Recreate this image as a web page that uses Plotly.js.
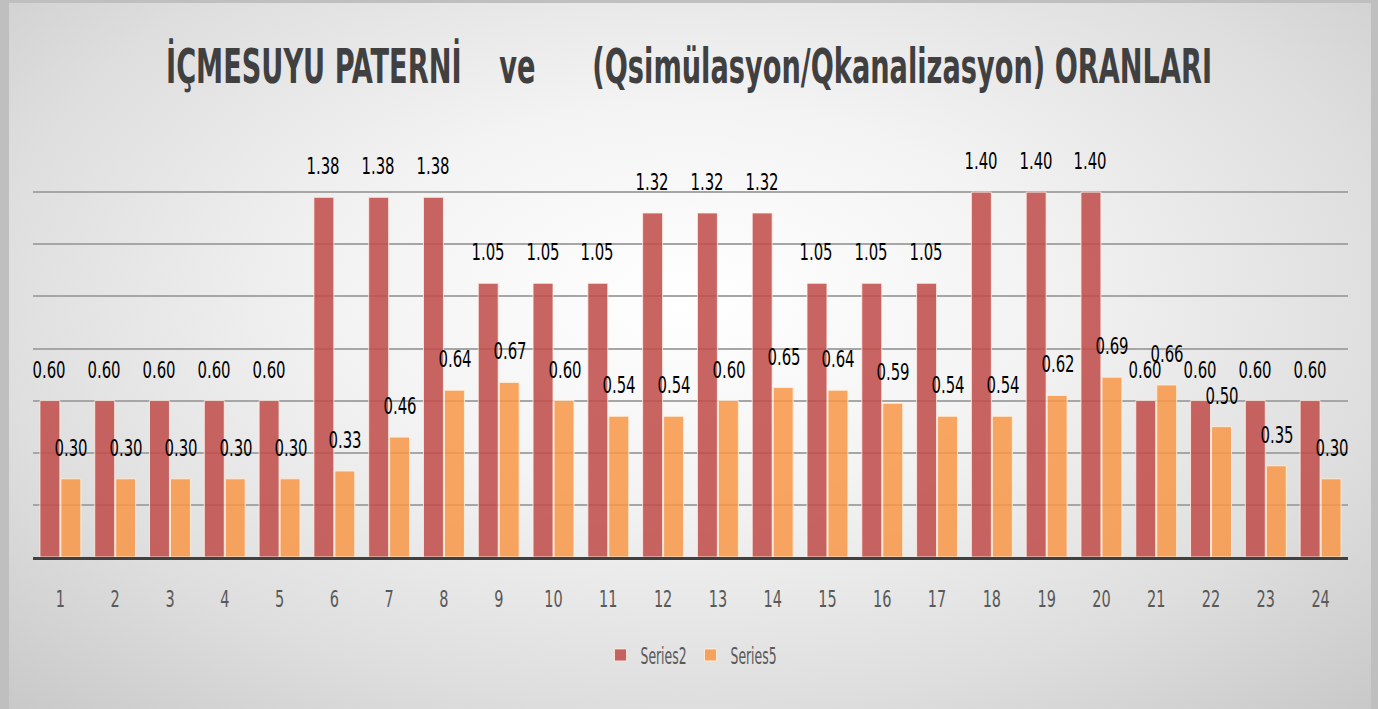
<!DOCTYPE html>
<html>
<head>
<meta charset="utf-8">
<script src="https://cdn.plot.ly/plotly-3.0.1.min.js"></script>
<style>
  html, body { margin: 0; padding: 0; width: 1378px; height: 709px; overflow: hidden; background: #bfbfbf; }
  #frame { position: absolute; left: 9px; top: 3px; width: 1362px; height: 706px;
    background: radial-gradient(ellipse 72% 80% at 50% 42%, #ffffff 0%, #f3f3f3 35%, #dedede 72%, #c9c9c9 100%); }
  #chart { position: absolute; left: -9px; top: -3px; width: 1378px; height: 709px; }
</style>
</head>
<body>
<div id="frame"><div id="chart"></div></div>
<script>
const categories = ['1','2','3','4','5','6','7','8','9','10','11','12','13','14','15','16','17','18','19','20','21','22','23','24'];
const series2 = [0.60,0.60,0.60,0.60,0.60,1.38,1.38,1.38,1.05,1.05,1.05,1.32,1.32,1.32,1.05,1.05,1.05,1.40,1.40,1.40,0.60,0.60,0.60,0.60];
const series5 = [0.30,0.30,0.30,0.30,0.30,0.33,0.46,0.64,0.67,0.60,0.54,0.54,0.60,0.65,0.64,0.59,0.54,0.54,0.62,0.69,0.66,0.50,0.35,0.30];
const seriesNames = ['Series2','Series5'];
const titleText = 'İÇMESUYU PATERNİ\u00A0\u00A0\u00A0\u00A0ve\u00A0\u00A0\u00A0\u00A0\u00A0\u00A0(Qsimülasyon/Qkanalizasyon) ORANLARI';

const FONT = '"DejaVu Sans Condensed", "Liberation Sans Narrow", "Liberation Sans", sans-serif';

const traces = [
  {
    type: 'bar', name: seriesNames[0], x: categories, y: series2,
    marker: { color: 'rgba(192,80,77,0.88)', line: { color: 'rgba(255,240,230,0.8)', width: 1 } },
    hoverinfo: 'x+y'
  },
  {
    type: 'bar', name: seriesNames[1], x: categories, y: series5,
    marker: { color: 'rgba(247,150,70,0.85)', line: { color: 'rgba(255,240,220,0.9)', width: 1 } },
    hoverinfo: 'x+y'
  }
];

const annotations = [];
function addLabels(vals, shift) {
  vals.forEach((v, i) => {
    annotations.push({
      x: i, y: v, xref: 'x', yref: 'y',
      text: v.toFixed(2), showarrow: false,
      xshift: shift, yshift: 31, yanchor: 'middle', xanchor: 'center',
      font: { family: FONT, size: 23, color: '#000000' }
    });
  });
}
addLabels(series2, -11);
addLabels(series5, 11);

const layout = {
  width: 1378, height: 709,
  paper_bgcolor: 'rgba(0,0,0,0)',
  plot_bgcolor: 'rgba(0,0,0,0)',
  margin: { l: 33, r: 30, t: 140, b: 152 },
  title: {
    text: '<b>' + titleText + '</b>',
    font: { family: FONT, size: 48, color: '#404040' },
    x: 0.5, xanchor: 'center', xref: 'container',
    y: 1 - 66 / 709, yanchor: 'middle', yref: 'container'
  },
  barmode: 'group',
  bargap: 0.234,
  bargroupgap: 0.05,
  xaxis: {
    type: 'category', range: [-0.5, 23.5],
    showgrid: false, zeroline: false,
    showline: true, linecolor: '#404040', linewidth: 3,
    ticks: '', ticklabelstandoff: 19,
    tickfont: { family: FONT, size: 23, color: '#595959' }
  },
  yaxis: {
    range: [0, 1.6], dtick: 0.2,
    showgrid: true, gridcolor: '#a6a6a6', gridwidth: 2,
    zeroline: false, showticklabels: false, showline: false
  },
  showlegend: true,
  legend: {
    orientation: 'h', x: 0.5, xanchor: 'center', y: -0.235, yanchor: 'middle',
    font: { family: FONT, size: 23, color: '#595959' },
    bgcolor: 'rgba(0,0,0,0)',
    itemwidth: 30, entrywidth: 45, entrywidthmode: 'pixels'
  },
  annotations: annotations
};

function squeeze(selector, s, anchor) {
  document.querySelectorAll(selector).forEach(el => {
    const bb = el.getBBox();
    const cx = anchor === 'left' ? bb.x : bb.x + bb.width / 2;
    const prev = el.getAttribute('transform') || '';
    el.setAttribute('transform', prev + ' translate(' + cx + ',0) scale(' + s + ',1) translate(' + (-cx) + ',0)');
  });
}

Plotly.newPlot('chart', traces, layout, { displayModeBar: false, staticPlot: true }).then(() => {
  squeeze('.gtitle', 0.63, 'center');
  squeeze('.annotation-text', 0.72, 'center');
  squeeze('.xtick text', 0.7, 'center');
  squeeze('.legendtext', 0.6, 'left');
});
</script>
</body>
</html>
